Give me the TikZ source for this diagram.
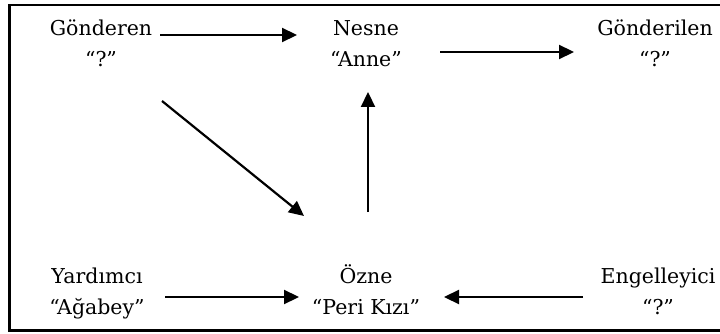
\documentclass[tikz,border=0pt]{standalone}
\usepackage{fontspec}
\setmainfont{DejaVu Serif}
\usetikzlibrary{arrows.meta}
\tikzset{
  lbl/.style={align=center, inner sep=0pt, font=\fontsize{20.5}{31}\selectfont, anchor=base},
  arr/.style={line width=2.2pt, -{Triangle[length=15pt,width=14pt]}},
  frame/.style={line width=2.2pt}
}
\begin{document}
\begin{tikzpicture}[x=1pt,y=-1pt]
\useasboundingbox (0,0) rectangle (720,334);
% frame (right side lies outside the picture)
\draw[frame] (730,5) -- (9.5,5) -- (9.5,330.5) -- (730,330.5);
% labels (anchor base = last line baseline)
\node[lbl] (gon) at (101,67) {Gönderen\\“?”};
\node[lbl] (nes) at (366,67) {Nesne\\“Anne”};
\node[lbl] (gil) at (655,67) {Gönderilen\\“?”};
\node[lbl] (yar) at (97,314) {Yardımcı\\“Ağabey”};
\node[lbl] (ozn) at (366,314) {Özne\\“Peri Kızı”};
\node[lbl] (eng) at (658,314) {Engelleyici\\“?”};
% connector end points
\coordinate (a1s) at (160,35);  \coordinate (a1e) at (297,35);
\coordinate (a2s) at (440,52);  \coordinate (a2e) at (574,52);
\coordinate (a3s) at (162,101); \coordinate (a3e) at (304,216);
\coordinate (a4s) at (368,212); \coordinate (a4e) at (368,92);
\coordinate (a5s) at (165,297); \coordinate (a5e) at (299,297);
\coordinate (a6s) at (583,297); \coordinate (a6e) at (444,297);
\draw[arr] (a1s) -- (a1e);
\draw[arr] (a2s) -- (a2e);
\draw[arr] (a3s) -- (a3e);
\draw[arr] (a4s) -- (a4e);
\draw[arr] (a5s) -- (a5e);
\draw[arr] (a6s) -- (a6e);
\end{tikzpicture}
\end{document}
